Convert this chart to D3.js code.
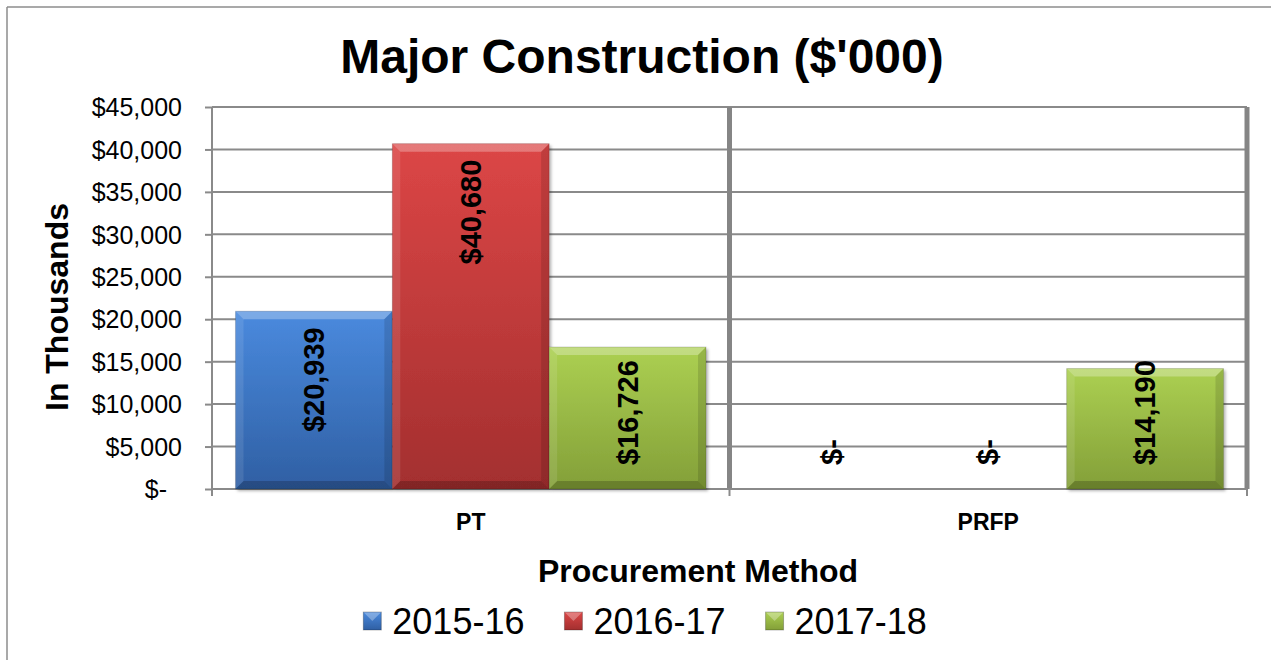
<!DOCTYPE html>
<html>
<head>
<meta charset="utf-8">
<script src="https://cdn.jsdelivr.net/npm/d3@7"></script>
<style>
  body { margin: 0; background: #fff; }
  svg { display: block; font-family: 'Liberation Sans', Arial, sans-serif; }
</style>
</head>
<body>
<svg id="chart" width="1271" height="660"></svg>
<script>
const categories = ['PT', 'PRFP'];
const seriesNames = ['2015-16', '2016-17', '2017-18'];
const values1516 = [20939, 0];
const values1617 = [40680, 0];
const values1718 = [16726, 14190];
const yTicks = [0, 5000, 10000, 15000, 20000, 25000, 30000, 35000, 40000, 45000];

const seriesValues = [values1516, values1617, values1718];
const colors = {
  '2015-16': { top: '#4a8ade', bottom: '#2f5fa3' },
  '2016-17': { top: '#dc4646', bottom: '#a32f2f' },
  '2017-18': { top: '#acd052', bottom: '#839f38' }
};

const svg = d3.select('#chart');
const margin = { top: 107, right: 24, bottom: 171, left: 212 };
const width = 1271 - margin.left - margin.right;
const height = 660 - margin.top - margin.bottom;

// outer chart border (only top/left visible in the crop)
svg.append('line').attr('x1', 7).attr('x2', 1271).attr('y1', 7).attr('y2', 7)
  .attr('stroke', '#8c8c8c').attr('stroke-width', 1.5);
svg.append('line').attr('x1', 7).attr('x2', 7).attr('y1', 7).attr('y2', 660)
  .attr('stroke', '#8c8c8c').attr('stroke-width', 1.5);

const defs = svg.append('defs');
seriesNames.forEach((s, i) => {
  const g = defs.append('linearGradient').attr('id', 'grad' + i)
    .attr('x1', 0).attr('y1', 0).attr('x2', 0).attr('y2', 1);
  g.append('stop').attr('offset', '0%').attr('stop-color', colors[s].top);
  g.append('stop').attr('offset', '100%').attr('stop-color', colors[s].bottom);
});
const shadow = defs.append('filter').attr('id', 'shadow')
  .attr('x', '-10%').attr('y', '-10%').attr('width', '130%').attr('height', '130%');
shadow.append('feDropShadow').attr('dx', 2).attr('dy', 2).attr('stdDeviation', 1.5)
  .attr('flood-color', '#000').attr('flood-opacity', 0.3);

const g = svg.append('g').attr('transform', `translate(${margin.left},${margin.top})`);

const x0 = d3.scaleBand().domain(categories).range([0, width]).padding(0);
const x1 = d3.scaleBand().domain(seriesNames).range([0, x0.bandwidth()])
  .paddingInner(0).paddingOuter(0.15);
const y = d3.scaleLinear().domain([0, 45000]).range([height, 0]);

const fmt = d3.format(',');
const money = d => d === 0 ? '$-' : '$' + fmt(d);

// horizontal gridlines
g.append('g').selectAll('line').data(yTicks.filter(d => d > 0)).join('line')
  .attr('x1', 0).attr('x2', width)
  .attr('y1', d => y(d)).attr('y2', d => y(d))
  .attr('stroke', '#8a8a8a').attr('stroke-width', 2);

// thick vertical lines at category boundaries
g.append('g').selectAll('line').data(categories).join('line')
  .attr('x1', d => x0(d) + x0.bandwidth()).attr('x2', d => x0(d) + x0.bandwidth())
  .attr('y1', 0).attr('y2', height)
  .attr('stroke', '#858585').attr('stroke-width', 5);

// y axis
const yAxis = g.append('g')
  .call(d3.axisLeft(y).tickValues(yTicks).tickSize(7).tickPadding(23).tickFormat(money));
yAxis.select('.domain').attr('stroke', '#8a8a8a').attr('stroke-width', 2).attr('d', `M0,0V${height + 7}`);
yAxis.selectAll('.tick line').attr('stroke', '#8a8a8a').attr('stroke-width', 2);
yAxis.selectAll('.tick text')
  .style('font-size', '25px').attr('fill', '#000').attr('dy', '0.35em')
  .attr('dx', d => d === 0 ? -15 : 0);

// x axis
const xAxis = g.append('g').attr('transform', `translate(0,${height})`);
xAxis.append('line').attr('x1', 0).attr('x2', width).attr('y1', 0).attr('y2', 0)
  .attr('stroke', '#8a8a8a').attr('stroke-width', 2);
xAxis.selectAll('.xtick').data([0, ...categories.map(c => x0(c) + x0.bandwidth())]).join('line')
  .attr('class', 'xtick')
  .attr('x1', d => d).attr('x2', d => d).attr('y1', 0).attr('y2', 7)
  .attr('stroke', '#8a8a8a').attr('stroke-width', 2);
xAxis.selectAll('.xlabel').data(categories).join('text')
  .attr('class', 'xlabel')
  .attr('x', d => x0(d) + x0.bandwidth() / 2).attr('y', 41)
  .attr('text-anchor', 'middle').style('font-size', '23px').style('font-weight', 'bold')
  .text(d => d);

// bars
const barData = [];
categories.forEach((c, ci) => {
  seriesNames.forEach((s, si) => {
    barData.push({ cat: c, series: s, si, value: seriesValues[si][ci] });
  });
});

const bars = g.append('g').selectAll('g').data(barData).join('g')
  .attr('transform', d => `translate(${x0(d.cat) + x1(d.series)},0)`);

bars.filter(d => d.value > 0).each(function(d) {
  const sel = d3.select(this);
  const w = x1.bandwidth();
  const top = y(d.value);
  const h = height - top;
  const b = Math.min(8, h / 2, w / 2);
  sel.append('rect').attr('x', 0).attr('y', top).attr('width', w).attr('height', h)
    .attr('fill', `url(#grad${d.si})`).attr('filter', 'url(#shadow)');
  const bevel = [
    { pts: [[0, top], [w, top], [w - b, top + b], [b, top + b]], fill: '#fff', op: 0.28 },
    { pts: [[0, top], [b, top + b], [b, height - b], [0, height]], fill: '#fff', op: 0.1 },
    { pts: [[w, top], [w, height], [w - b, height - b], [w - b, top + b]], fill: '#000', op: 0.12 },
    { pts: [[0, height], [w, height], [w - b, height - b], [b, height - b]], fill: '#000', op: 0.2 }
  ];
  sel.selectAll('polygon').data(bevel).join('polygon')
    .attr('points', p => p.pts.map(q => q.join(',')).join(' '))
    .attr('fill', p => p.fill).attr('fill-opacity', p => p.op);
  sel.append('rect').attr('x', 0).attr('y', top).attr('width', w).attr('height', h)
    .attr('fill', 'none').attr('stroke', '#000').attr('stroke-opacity', 0.15).attr('stroke-width', 1);
});

// data labels, rotated, inside end (kept off the baseline)
bars.append('text')
  .attr('text-anchor', 'start')
  .style('font-size', '29px').style('font-weight', 'bold').attr('fill', '#000')
  .text(d => money(d.value))
  .each(function(d) {
    const len = this.getComputedTextLength();
    const start = Math.min(y(d.value) + 16 + len, height - 24);
    d3.select(this).attr('transform', `translate(${x1.bandwidth() / 2},${start}) rotate(-90)`)
      .attr('dy', '0.35em');
  });

// title
svg.append('text').attr('x', 642).attr('y', 73).attr('text-anchor', 'middle')
  .style('font-size', '48px').style('font-weight', 'bold').text("Major Construction ($'000)");

// axis titles
svg.append('text').attr('transform', 'translate(68,307) rotate(-90)').attr('text-anchor', 'middle')
  .style('font-size', '32px').style('font-weight', 'bold').text('In Thousands');
svg.append('text').attr('x', 698).attr('y', 582).attr('text-anchor', 'middle')
  .style('font-size', '32px').style('font-weight', 'bold').text('Procurement Method');

// legend
const legend = svg.append('g');
const items = legend.selectAll('g').data(seriesNames).join('g');
items.append('text').attr('y', 634).style('font-size', '36px').text(d => d);
let cursor = 0;
const pos = [];
items.each(function(d) {
  const len = d3.select(this).select('text').node().getComputedTextLength();
  pos.push(cursor);
  cursor += 18 + 11 + len + 40;
});
const total = cursor - 40;
const startX = 645 - total / 2;
items.attr('transform', (d, i) => `translate(${startX + pos[i]},0)`);
items.select('text').attr('x', 29);
items.each(function(d, i) {
  const sel = d3.select(this);
  const s = 18, t = 612;
  sel.append('rect').attr('x', 0).attr('y', t).attr('width', s).attr('height', s)
    .attr('fill', `url(#grad${i})`);
  sel.append('polygon')
    .attr('points', `0,${t} ${s},${t} ${s / 2},${t + s / 2}`)
    .attr('fill', '#fff').attr('fill-opacity', 0.3);
  sel.append('rect').attr('x', 0).attr('y', t).attr('width', s).attr('height', s)
    .attr('fill', 'none').attr('stroke', '#000').attr('stroke-opacity', 0.25);
});
</script>
</body>
</html>
